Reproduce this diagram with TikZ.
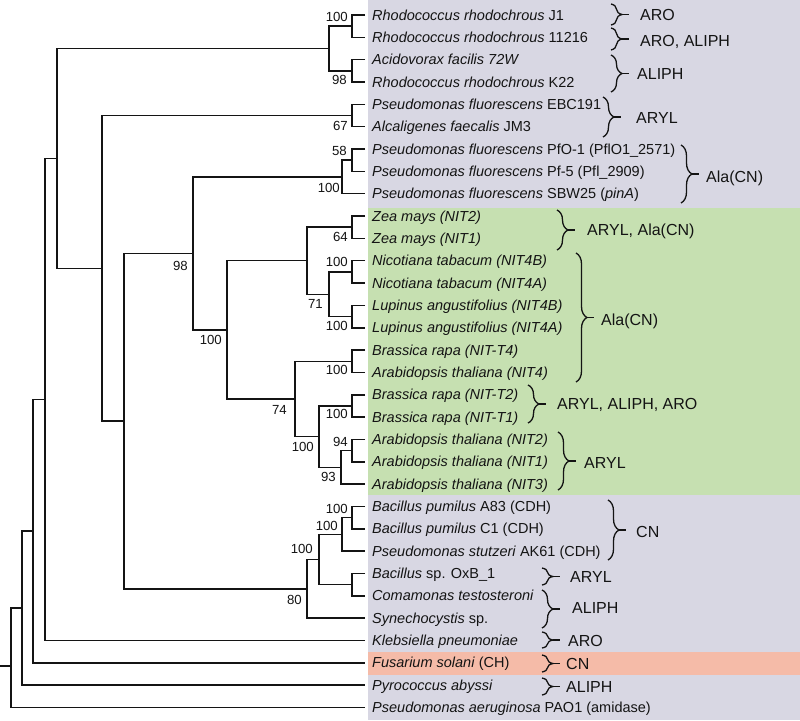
\documentclass[tikz,border=0pt]{standalone}
\usepackage{fontspec}
\setmainfont{Liberation Sans}
\usetikzlibrary{decorations.pathreplacing,calc}
\definecolor{bggray}{RGB}{216,215,227}
\definecolor{bggreen}{RGB}{198,224,177}
\definecolor{bgsalmon}{RGB}{245,187,168}
\definecolor{ink}{RGB}{20,20,20}
\newcommand{\brlab}[7]{%
  \draw[brc] (#1,#2) -- (#1,#3);
  \draw[brd] ({#1+11},{(#2+#3)/2}) -- ++(7,0);
  \node[brtext] (#7) at (#4,#5) {#6};}
\begin{document}
\begin{tikzpicture}[x=1pt,y=-1pt,
  tree/.style={draw=ink,line width=1.5pt},
  leaf/.style={font=\fontsize{14.5}{16}\selectfont,inner sep=0pt,anchor=base west,text=ink,yshift=-5pt,xshift=7pt},
  bsl/.style={font=\fontsize{13.2}{15}\selectfont,inner sep=0pt,anchor=east,text=ink},
  brc/.style={draw=ink,line width=1.3pt,decorate,decoration={brace,amplitude=11pt}},
  brd/.style={draw=ink,line width=1.3pt},
  brtext/.style={font=\fontsize{16}{18}\selectfont,inner sep=0pt,anchor=base west,text=ink,yshift=-5.7pt}]
\useasboundingbox (0,0) rectangle (800,720);
% background bands
\fill[bggray] (368,0) rectangle (800,720);
\fill[bggreen] (368,208) rectangle (800,495);
\fill[bgsalmon] (368,652) rectangle (800,675);
% leaf tips
\foreach \i in {1,...,32}{\coordinate (L\i) at (365,{15+22.34*(\i-1)});}
% internal nodes
\coordinate (n12) at (352,26.17);
\coordinate (n34) at (352,70.85);
\coordinate (nR) at (329,48.51);
\coordinate (n56) at (352,115.53);
\coordinate (n78) at (352,160.21);
\coordinate (n789) at (342,176.97);
\coordinate (nZ) at (352,227.23);
\coordinate (nNic) at (352,271.91);
\coordinate (nLup) at (352,316.59);
\coordinate (nNL) at (329,294.25);
\coordinate (nZNL) at (307,260.74);
\coordinate (nB4) at (352,361.27);
\coordinate (nBT) at (352,405.95);
\coordinate (nA12) at (352,450.63);
\coordinate (nA123) at (341,467.39);
\coordinate (nBTA) at (319,436.67);
\coordinate (nB4BTA) at (295,398.97);
\coordinate (nPlant) at (227,329.86);
\coordinate (nP) at (193,253.41);
\coordinate (nB12) at (352,517.65);
\coordinate (nB123) at (342,534.41);
\coordinate (nBC) at (352,584.67);
\coordinate (nBBC) at (319,559.54);
\coordinate (nBact) at (307,588.86);
\coordinate (nPB) at (124,421.14);
\coordinate (nAR) at (102,268.34);
\coordinate (nRest) at (57,158.42);
\coordinate (nK) at (45,399.47);
\coordinate (nF) at (33,531.17);
\coordinate (nPy) at (22,608.18);
\coordinate (root) at (11,666);
\coordinate (rootstub) at (0,666);
% branches
\draw[tree] (L1) -| (n12) |- (L2);
\draw[tree] (L3) -| (n34) |- (L4);
\draw[tree] (n12) -| (nR) |- (n34);
\draw[tree] (L5) -| (n56) |- (L6);
\draw[tree] (L7) -| (n78) |- (L8);
\draw[tree] (n78) -| (n789) |- (L9);
\draw[tree] (L10) -| (nZ) |- (L11);
\draw[tree] (L12) -| (nNic) |- (L13);
\draw[tree] (L14) -| (nLup) |- (L15);
\draw[tree] (nNic) -| (nNL) |- (nLup);
\draw[tree] (nZ) -| (nZNL) |- (nNL);
\draw[tree] (L16) -| (nB4) |- (L17);
\draw[tree] (L18) -| (nBT) |- (L19);
\draw[tree] (L20) -| (nA12) |- (L21);
\draw[tree] (nA12) -| (nA123) |- (L22);
\draw[tree] (nBT) -| (nBTA) |- (nA123);
\draw[tree] (nB4) -| (nB4BTA) |- (nBTA);
\draw[tree] (nZNL) -| (nPlant) |- (nB4BTA);
\draw[tree] (n789) -| (nP) |- (nPlant);
\draw[tree] (L23) -| (nB12) |- (L24);
\draw[tree] (nB12) -| (nB123) |- (L25);
\draw[tree] (L26) -| (nBC) |- (L27);
\draw[tree] (nB123) -| (nBBC) |- (nBC);
\draw[tree] (nBBC) -| (nBact) |- (L28);
\draw[tree] (nP) -| (nPB) |- (nBact);
\draw[tree] (n56) -| (nAR) |- (nPB);
\draw[tree] (nR) -| (nRest) |- (nAR);
\draw[tree] (nRest) -| (nK) |- (L29);
\draw[tree] (nK) -| (nF) |- (L30);
\draw[tree] (nF) -| (nPy) |- (L31);
\draw[tree] (nPy) -| (root) |- (L32);
\draw[tree] (rootstub) -- (root);
% leaf labels
\node[leaf] (t1) at (L1) {\textit{Rhodococcus rhodochrous} J1};
\node[leaf] (t2) at (L2) {\textit{Rhodococcus rhodochrous} 11216};
\node[leaf] (t3) at (L3) {\textit{Acidovorax facilis 72W}};
\node[leaf] (t4) at (L4) {\textit{Rhodococcus rhodochrous} K22};
\node[leaf] (t5) at (L5) {\textit{Pseudomonas fluorescens} EBC191};
\node[leaf] (t6) at (L6) {\textit{Alcaligenes faecalis} JM3};
\node[leaf] (t7) at (L7) {\textit{Pseudomonas fluorescens} PfO-1 (PflO1\_2571)};
\node[leaf] (t8) at (L8) {\textit{Pseudomonas fluorescens} Pf-5 (Pfl\_2909)};
\node[leaf] (t9) at (L9) {\textit{Pseudomonas fluorescens} SBW25 (\textit{pinA})};
\node[leaf] (t10) at (L10) {\textit{Zea mays (NIT2)}};
\node[leaf] (t11) at (L11) {\textit{Zea mays (NIT1)}};
\node[leaf] (t12) at (L12) {\textit{Nicotiana tabacum (NIT4B)}};
\node[leaf] (t13) at (L13) {\textit{Nicotiana tabacum (NIT4A)}};
\node[leaf] (t14) at (L14) {\textit{Lupinus angustifolius (NIT4B)}};
\node[leaf] (t15) at (L15) {\textit{Lupinus angustifolius (NIT4A)}};
\node[leaf] (t16) at (L16) {\textit{Brassica rapa (NIT-T4)}};
\node[leaf] (t17) at (L17) {\textit{Arabidopsis thaliana (NIT4)}};
\node[leaf] (t18) at (L18) {\textit{Brassica rapa (NIT-T2)}};
\node[leaf] (t19) at (L19) {\textit{Brassica rapa (NIT-T1)}};
\node[leaf] (t20) at (L20) {\textit{Arabidopsis thaliana (NIT2)}};
\node[leaf] (t21) at (L21) {\textit{Arabidopsis thaliana (NIT1)}};
\node[leaf] (t22) at (L22) {\textit{Arabidopsis thaliana (NIT3)}};
\node[leaf] (t23) at (L23) {\textit{Bacillus pumilus} A83 (CDH)};
\node[leaf] (t24) at (L24) {\textit{Bacillus pumilus} C1 (CDH)};
\node[leaf] (t25) at (L25) {\textit{Pseudomonas stutzeri} AK61 (CDH)};
\node[leaf] (t26) at (L26) {\textit{Bacillus} sp. OxB\_1};
\node[leaf] (t27) at (L27) {\textit{Comamonas testosteroni}};
\node[leaf] (t28) at (L28) {\textit{Synechocystis} sp.};
\node[leaf] (t29) at (L29) {\textit{Klebsiella pneumoniae}};
\node[leaf] (t30) at (L30) {\textit{Fusarium solani} (CH)};
\node[leaf] (t31) at (L31) {\textit{Pyrococcus abyssi}};
\node[leaf] (t32) at (L32) {\textit{Pseudomonas aeruginosa} PAO1 (amidase)};
% bootstrap values
\node[bsl] (b1) at (348,17) {100};
\node[bsl] (b2) at (347,80) {98};
\node[bsl] (b3) at (348,126) {67};
\node[bsl] (b4) at (347,151) {58};
\node[bsl] (b5) at (340,188) {100};
\node[bsl] (b6) at (348,237) {64};
\node[bsl] (b7) at (188,266) {98};
\node[bsl] (b8) at (222,340) {100};
\node[bsl] (b9) at (348,262) {100};
\node[bsl] (b10) at (323,304) {71};
\node[bsl] (b11) at (348,326) {100};
\node[bsl] (b12) at (348,370) {100};
\node[bsl] (b13) at (287,410) {74};
\node[bsl] (b14) at (314,447) {100};
\node[bsl] (b15) at (348,414) {100};
\node[bsl] (b16) at (348,442) {94};
\node[bsl] (b17) at (336,477) {93};
\node[bsl] (b18) at (348,509) {100};
\node[bsl] (b19) at (338,526) {100};
\node[bsl] (b20) at (313,549) {100};
\node[bsl] (b21) at (302,600) {80};
% activity braces
\brlab{611}{4}{25}{640}{15}{ARO}{g1}
\brlab{611}{28}{50}{640}{41}{ARO, ALIPH}{g2}
\brlab{611}{55}{92}{637}{74}{ALIPH}{g3}
\brlab{603}{97}{137}{636}{118}{ARYL}{g4}
\brlab{681}{145}{203}{706}{177}{Ala(CN)}{g5}
\brlab{557}{210}{250}{587}{230}{ARYL, Ala(CN)}{g6}
\brlab{576}{253}{382}{601}{320}{Ala(CN)}{g7}
\brlab{528}{385}{423}{557}{404}{ARYL, ALIPH, ARO}{g8}
\brlab{558}{432}{490}{584}{463}{ARYL}{g9}
\brlab{608}{500}{560}{636}{532}{CN}{g10}
\brlab{542}{568}{585}{570}{577}{ARYL}{g11}
\brlab{542}{590}{628}{572}{608}{ALIPH}{g12}
\brlab{542}{632}{648}{568}{641}{ARO}{g13}
\brlab{542}{655}{672}{566}{664}{CN}{g14}
\brlab{542}{678}{695}{566}{687}{ALIPH}{g15}
\end{tikzpicture}
\end{document}
